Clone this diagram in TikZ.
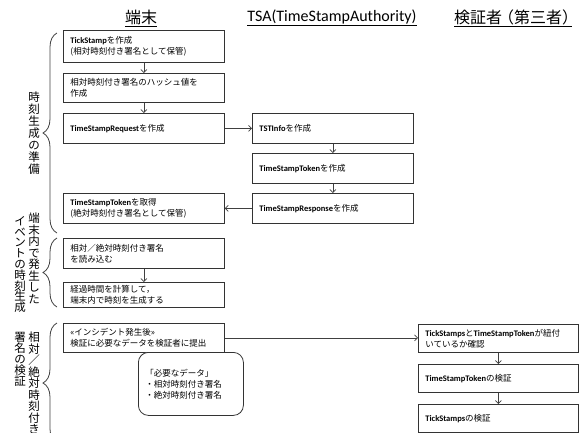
\documentclass[tikz,border=0pt]{standalone}
\usepackage{fontspec}
\setmainfont{Noto Sans CJK JP}
\newfontfamily\latf{Carlito}
\usetikzlibrary{arrows.meta,decorations.pathreplacing}
\newcommand\E[1]{{\latf\bfseries #1}}
\begin{document}
\begin{tikzpicture}[x=1pt,y=-1pt,
  box/.style={draw=black!80, line width=0.8pt, rectangle, anchor=north west,
    minimum width=161pt, text width=147pt, inner xsep=7pt, inner ysep=0pt,
    align=left, font=\fontsize{8.5}{11}\selectfont},
  vbox/.style={box, minimum width=160pt, text width=146pt},
  arr/.style={draw=black!75, line width=0.7pt, -{Straight Barb[length=3pt,width=6pt]}},
  brc/.style={draw=black!75, line width=0.8pt, decorate,
    decoration={brace, amplitude=14pt, aspect=0.5}},
  vlab/.style={align=center, inner sep=0pt, anchor=north},
  head/.style={inner sep=0pt, font=\fontsize{16}{16}\selectfont}]
\useasboundingbox (0,0) rectangle (579,432);

% headings
\node[head] (h1) at (141,18) {\underline{端末}};
\node[head] (h2) at (332,18) {\latf\underline{TSA(TimeStampAuthority)}};
\node[head] (h3) at (513,18) {\underline{検証者\hspace{-4pt}（第三者）\hspace{-6pt}}};

% terminal column
\node[box, minimum height=32pt] (b1) at (63,30) {\E{TickStamp}を作成\\(相対時刻付き署名として保管)};
\node[box, minimum height=29pt] (b2) at (63,73) {相対時刻付き署名のハッシュ値を\\作成};
\node[box, minimum height=30pt] (b3) at (63,113) {\E{TimeStampRequest}を作成};
\node[box, minimum height=30pt] (b4) at (63,193) {\E{TimeStampToken}を取得\\(絶対時刻付き署名として保管)};
\node[box, minimum height=30pt] (b5) at (63,238) {相対／絶対時刻付き署名\\を読み込む};
\node[box, minimum height=25pt] (b6) at (63,282) {経過時間を計算して，\\端末内で時刻を生成する};
\node[box, minimum height=29pt] (b7) at (63,323) {«インシデント発生後»\\検証に必要なデータを検証者に提出};

% TSA column
\node[box, minimum height=30pt] (t1) at (252,113) {\E{TSTInfo}を作成};
\node[box, minimum height=30pt] (t2) at (252,153) {\E{TimeStampToken}を作成};
\node[box, minimum height=30pt] (t3) at (252,193) {\E{TimeStampResponse}を作成};

% verifier column
\node[vbox, minimum height=28pt] (v1) at (418,324) {\E{TickStamps}と\E{TimeStampToken}が紐付\\いているか確認};
\node[vbox, minimum height=28pt] (v2) at (418,364) {\E{TimeStampToken}の検証};
\node[vbox, minimum height=28pt] (v3) at (418,404) {\E{TickStamps}の検証};

% required data note
\node[draw=black!80, line width=0.8pt, fill=white, rounded corners=10pt, anchor=north west,
  minimum width=105pt, minimum height=63pt, text width=91pt, inner xsep=7pt, inner ysep=0pt,
  align=left, font=\fontsize{8.5}{11}\selectfont] (need) at (138,352)
  {「必要なデータ」\\・相対時刻付き署名\\・絶対時刻付き署名};

% arrows
\draw[arr] (b1) -- (b2);
\draw[arr] (b2) -- (b3);
\draw[arr] (b3) -- (t1);
\draw[arr] (t1) -- (t2);
\draw[arr] (t2) -- (t3);
\draw[arr] (t3) -- (b4);
\draw[arr] (b5) -- (b6);
\draw[arr] (b7.east) -- (b7.east -| v1.west);
\draw[arr] (v1) -- (v2);
\draw[arr] (v2) -- (v3);

% braces
\draw[brc] (57,233) -- (57,33);
\draw[brc] (57,307) -- (57,238);
\draw[brc] (57,443) -- (57,323);

% brace labels
\node[vlab, font=\fontsize{11.5}{12}\selectfont] (l1) at (34,92) {時\\刻\\生\\成\\の\\準\\備};
\node[vlab, font=\fontsize{11.5}{11.5}\selectfont] (l2a) at (34,213) {端\\末\\内\\で\\発\\生\\し\\た};
\node[vlab, font=\fontsize{11.5}{10.8}\selectfont] (l2b) at (20,216) {イ\\ベ\\ン\\ト\\の\\時\\刻\\生\\成};
\node[vlab, font=\fontsize{11.5}{11.5}\selectfont] (l3a) at (34,332) {相\\対\\／\\絶\\対\\時\\刻\\付\\き};
\node[vlab, font=\fontsize{11.5}{11}\selectfont] (l3b) at (20,332) {署\\名\\の\\検\\証};
\end{tikzpicture}
\end{document}
